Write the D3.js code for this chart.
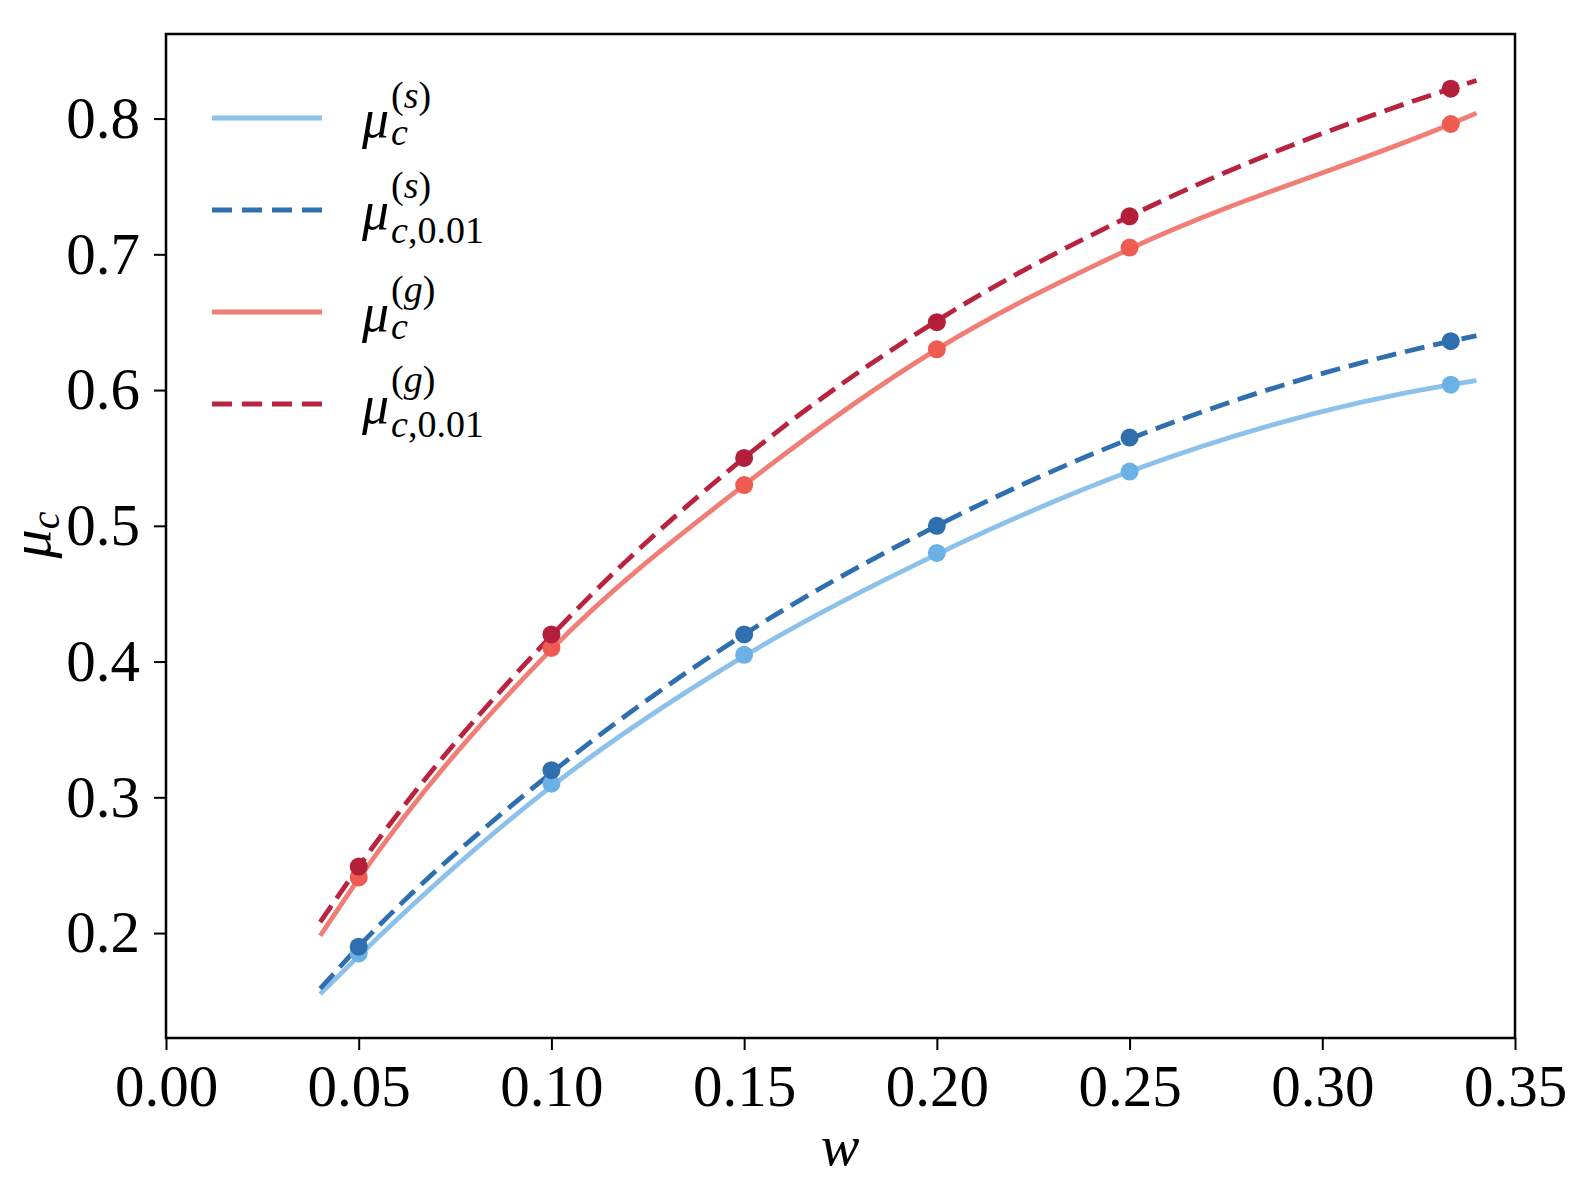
<!DOCTYPE html>
<html>
<head>
<meta charset="utf-8">
<script src="https://cdn.jsdelivr.net/npm/d3@7"></script>
<style>
  body { margin: 0; background: #fff; }
  svg { display: block; }
  text { font-family: "Liberation Serif", "DejaVu Serif", serif; fill: #000; }
</style>
</head>
<body>
<svg width="1580" height="1180"></svg>
<script>
// w values where the markers sit
var wPoints = [0.05, 0.10, 0.15, 0.20, 0.25, 1 / 3];

// marker values
var sPoints = [0.185, 0.310, 0.405, 0.480, 0.540, 0.604];
var s01Points = [0.190, 0.320, 0.420, 0.500, 0.565, 0.636];
var gPoints = [0.241, 0.410, 0.530, 0.630, 0.705, 0.796];
var g01Points = [0.249, 0.420, 0.550, 0.650, 0.728, 0.822];

// curve samples (markers plus the ends of each curve at w=0.04 and w=0.34)
var wCurve = [0.04, 0.05, 0.10, 0.15, 0.20, 0.25, 1 / 3, 0.34];
var sCurve = [0.155, 0.183, 0.308, 0.404, 0.479, 0.540, 0.604, 0.607];
var s01Curve = [0.159, 0.190, 0.318, 0.420, 0.500, 0.564, 0.636, 0.640];
var gCurve = [0.198, 0.240, 0.409, 0.530, 0.630, 0.704, 0.796, 0.804];
var g01Curve = [0.208, 0.249, 0.419, 0.550, 0.651, 0.728, 0.822, 0.828];

var xTicks = [0, 0.05, 0.10, 0.15, 0.20, 0.25, 0.30, 0.35];
var yTicks = [0.2, 0.3, 0.4, 0.5, 0.6, 0.7, 0.8];

var series = [
  { name: "s", sub: "c", line: sCurve, pts: sPoints, lineColor: "#8cc1ea", dotColor: "#6cb1e5", dash: "none" },
  { name: "s", sub: "c,0.01", line: s01Curve, pts: s01Points, lineColor: "#2f6fb0", dotColor: "#2f6fae", dash: "20,9" },
  { name: "g", sub: "c", line: gCurve, pts: gPoints, lineColor: "#f07e76", dotColor: "#ee5b51", dash: "none" },
  { name: "g", sub: "c,0.01", line: g01Curve, pts: g01Points, lineColor: "#b8243f", dotColor: "#b31f3a", dash: "20,9" }
];

var svg = d3.select("svg");
var padL = 166, padR = 1515, padT = 34, padB = 1038;

var x = d3.scaleLinear().domain([0, 0.35]).range([padL, padR]);
var y = d3.scaleLinear().domain([0.1227, 0.8623]).range([padB, padT]);

// axes
var xAxis = svg.append("g")
    .attr("transform", "translate(0," + padB + ")")
    .call(d3.axisBottom(x).tickValues(xTicks).tickFormat(d3.format(".2f")).tickSize(12).tickPadding(14));
var yAxis = svg.append("g")
    .attr("transform", "translate(" + padL + ",0)")
    .call(d3.axisLeft(y).tickValues(yTicks).tickFormat(d3.format(".1f")).tickSize(12).tickPadding(14));

[xAxis, yAxis].forEach(function(a) {
  a.select(".domain").remove();
  a.selectAll("line").attr("stroke", "#000").attr("stroke-width", 2);
  a.selectAll("text").attr("font-size", 59).attr("font-family", "Liberation Serif");
});

// frame
svg.append("rect")
    .attr("x", padL).attr("y", padT)
    .attr("width", padR - padL).attr("height", padB - padT)
    .attr("fill", "none").attr("stroke", "#000").attr("stroke-width", 2.5);

// curves
series.forEach(function(s) {
  var line = d3.line()
      .x(function(d, i) { return x(wCurve[i]); })
      .y(function(d) { return y(d); })
      .curve(d3.curveMonotoneX);
  svg.append("path")
      .attr("d", line(s.line))
      .attr("fill", "none")
      .attr("stroke", s.lineColor)
      .attr("stroke-width", 4.8)
      .attr("stroke-dasharray", s.dash);
});

// markers
series.forEach(function(s) {
  svg.selectAll(null)
      .data(s.pts)
    .enter().append("circle")
      .attr("cx", function(d, i) { return x(wPoints[i]); })
      .attr("cy", function(d) { return y(d); })
      .attr("r", 9)
      .attr("fill", s.dotColor);
});

// legend
var legY = [118, 210, 312, 404];
series.forEach(function(s, i) {
  var ly = legY[i];
  var g = svg.append("g");
  g.append("line")
      .attr("x1", 212).attr("x2", 322)
      .attr("y1", ly).attr("y2", ly)
      .attr("stroke", s.lineColor)
      .attr("stroke-width", 4.8)
      .attr("stroke-dasharray", s.dash == "none" ? "none" : "20,10");
  var long = s.sub.length > 1;
  var mu = g.append("text")
      .attr("x", 362).attr("y", ly + 19)
      .attr("font-size", 54).attr("font-style", "italic")
      .text("\u03bc");
  var x0 = 362 + mu.node().getComputedTextLength() + 2;
  var sub = g.append("text")
      .attr("x", x0).attr("y", ly + (long ? 33 : 27))
      .attr("font-size", 38);
  sub.append("tspan").attr("font-style", "italic").text("c");
  if (long) sub.append("tspan").text(",0.01");
  var sup = g.append("text")
      .attr("x", x0).attr("y", ly - (long ? 12 : 10))
      .attr("font-size", 38);
  sup.append("tspan").text("(");
  sup.append("tspan").attr("font-style", "italic").text(s.name);
  sup.append("tspan").text(")");
});

// axis labels
svg.append("text")
    .attr("x", 840).attr("y", 1165)
    .attr("text-anchor", "middle")
    .attr("font-size", 58).attr("font-style", "italic")
    .text("w");

var yl = svg.append("text")
    .attr("transform", "translate(50,535) rotate(-90)")
    .attr("text-anchor", "middle")
    .attr("font-size", 58);
yl.append("tspan").attr("font-style", "italic").text("\u03bc");
yl.append("tspan").attr("font-style", "italic").attr("font-size", 40).attr("dy", 9).text("c");
</script>
</body>
</html>
